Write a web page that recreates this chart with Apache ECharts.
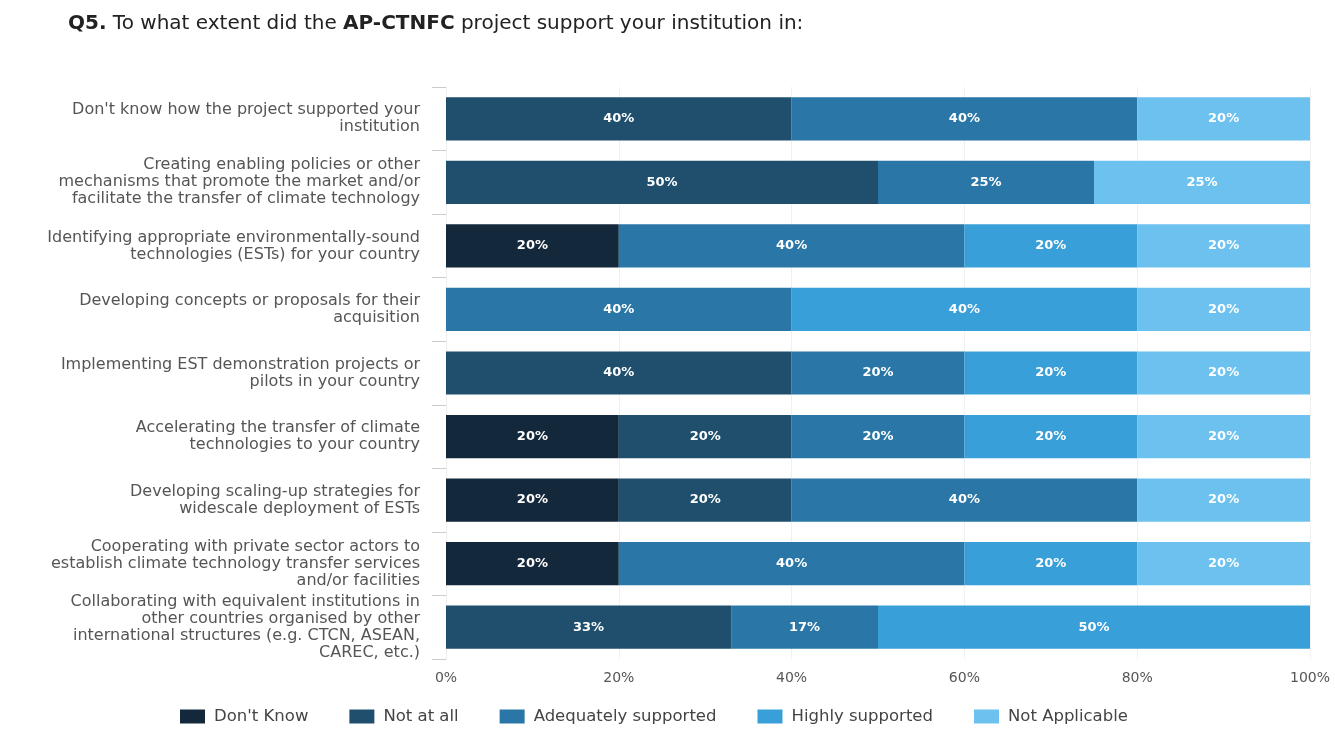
<!DOCTYPE html>
<html><head><meta charset="utf-8">
<script src="https://cdn.jsdelivr.net/npm/echarts@6/dist/echarts.min.js"></script>
<style>html,body{margin:0;padding:0;background:#fff}#c{width:1335px;height:729px}</style>
</head><body><div id="c"></div>
<script>
const categories = [
  "Don't know how the project supported your\ninstitution",
  "Creating enabling policies or other\nmechanisms that promote the market and/or\nfacilitate the transfer of climate technology",
  "Identifying appropriate environmentally-sound\ntechnologies (ESTs) for your country",
  "Developing concepts or proposals for their\nacquisition",
  "Implementing EST demonstration projects or\npilots in your country",
  "Accelerating the transfer of climate\ntechnologies to your country",
  "Developing scaling-up strategies for\nwidescale deployment of ESTs",
  "Cooperating with private sector actors to\nestablish climate technology transfer services\nand/or facilities",
  "Collaborating with equivalent institutions in\nother countries organised by other\ninternational structures (e.g. CTCN, ASEAN,\nCAREC, etc.)"
];
const seriesNames = ["Don't Know", "Not at all", "Adequately supported", "Highly supported", "Not Applicable"];
const dontKnow   = [null, null, 20, null, null, 20, 20, 20, null];
const notAtAll   = [40, 50, null, null, 40, 20, 20, null, 33];
const adequately = [40, 25, 40, 40, 20, 20, 40, 40, 17];
const highly     = [null, null, 20, 40, 20, 20, null, 20, 50];
const notApplic  = [20, 25, 20, 20, 20, 20, 20, 20, null];
const xTicks = [0, 20, 40, 60, 80, 100];

const colors = ['#13283b', '#1f4f6d', '#2a77a7', '#389fd9', '#6dc1ee'];
const values = [dontKnow, notAtAll, adequately, highly, notApplic];
const FONT = 'DejaVu Sans';

const chart = echarts.init(document.getElementById('c'));
chart.setOption({
  animation: false,
  color: colors,
  title: {
    text: '{b|Q5.} To what extent did the {b|AP-CTNFC} project support your institution in:',
    left: 63, top: 9,
    textStyle: {
      fontFamily: FONT, fontSize: 20, color: '#222', fontWeight: 'normal',
      rich: { b: { fontFamily: FONT, fontSize: 20, color: '#222', fontWeight: 'bold' } }
    }
  },
  legend: {
    bottom: -1, left: 175,
    itemWidth: 25, itemHeight: 14, itemGap: 41,
    icon: 'rect',
    textStyle: { fontFamily: FONT, fontSize: 16.5, color: '#444', padding: [0, 0, 0, 4] },
    data: seriesNames
  },
  grid: { left: 446, right: 25, top: 87, bottom: 70, containLabel: false },
  xAxis: {
    type: 'value', min: 0, max: 100, interval: 20,
    axisLabel: { formatter: v => xTicks.includes(v) ? v + '%' : '', fontFamily: FONT, fontSize: 14, color: '#555', margin: 12 },
    splitLine: { show: true, lineStyle: { color: '#f0f0f0' } },
    axisLine: { show: false }, axisTick: { show: false }
  },
  yAxis: {
    type: 'category', inverse: true, data: categories,
    axisLabel: { fontFamily: FONT, fontSize: 16, fontWeight: 'normal', color: '#555', lineHeight: 17, margin: 26, align: 'right' },
    axisTick: { show: true, length: 14, lineStyle: { color: '#ccc' } },
    axisLine: { show: true, lineStyle: { color: '#eee' } }
  },
  series: seriesNames.map((n, i) => ({
    name: n, type: 'bar', stack: 'total', barCategoryGap: '32%',
    data: values[i],
    itemStyle: { color: colors[i] },
    label: {
      show: true, position: 'inside', color: '#fff', fontFamily: FONT, fontSize: 13, fontWeight: 'bold',
      formatter: p => (p.value == null ? '' : p.value + '%')
    }
  }))
});
</script></body></html>
